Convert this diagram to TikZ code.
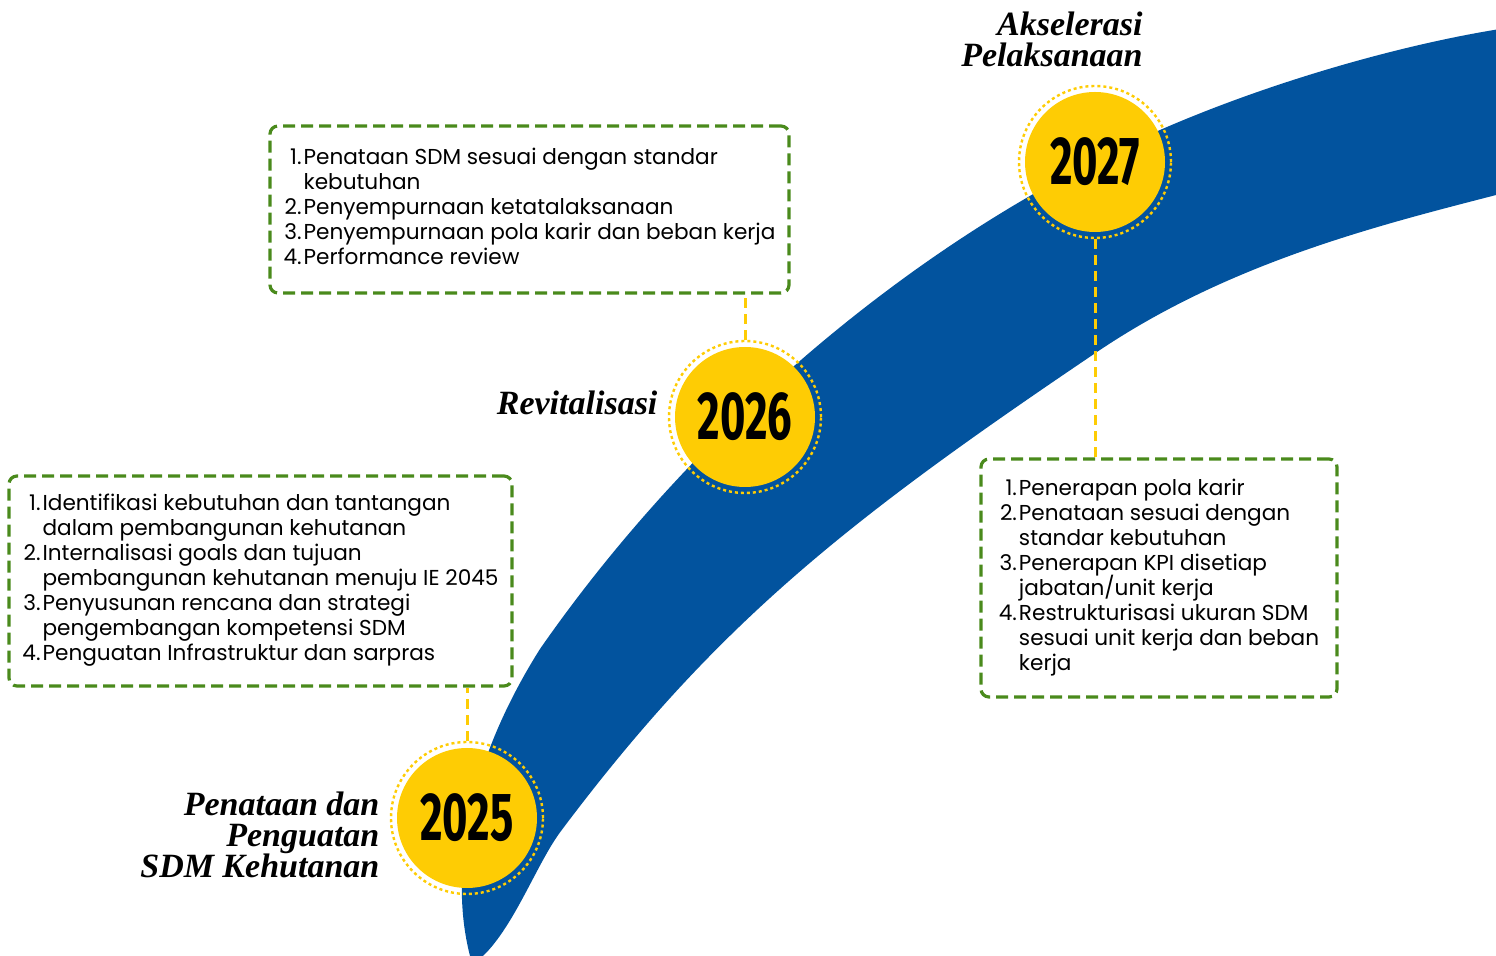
\documentclass[tikz,border=0pt]{standalone}
\usepackage{fontspec}
\setmainfont{Poppins}
\newfontfamily\yearfamily[FakeStretch=0.64]{Fira Sans}
\newfontfamily\titlefamily{Liberation Serif}
\usetikzlibrary{positioning}
\definecolor{bandblue}{RGB}{2,83,158}
\definecolor{sunyellow}{RGB}{254,204,4}
\definecolor{boxgreen}{RGB}{74,138,28}
\tikzstyle{Disc} = [circle, fill=sunyellow, minimum size=70pt, inner sep=0pt, font=\fontsize{34}{34}\selectfont\yearfamily\bfseries]
\tikzstyle{Ring} = [circle, draw=sunyellow, line width=1.2pt, dash pattern=on 1.5pt off 1.5pt, minimum size=76pt, inner sep=0pt]
\tikzstyle{List} = [draw=boxgreen, line width=1.6pt, dash pattern=on 6pt off 3pt, rounded corners=4pt, inner sep=0pt, font=\fontsize{10.8}{12.5}\selectfont]
\tikzstyle{Title} = [align=right, inner sep=0pt, font=\fontsize{17}{15.5}\selectfont\titlefamily\bfseries\itshape]
\tikzstyle{Link} = [draw=sunyellow, line width=1.5pt, dash pattern=on 5pt off 3pt]

\begin{document}
\begin{tikzpicture}[x=0.5pt, y=-0.5pt]
    \useasboundingbox (0,0) rectangle (1496,956);
    % band
    \fill[bandblue] (470,956) .. controls (448,870) and (470,760) .. (540,649)
        .. controls (688,436) and (912,238) .. (1160,130)
        .. controls (1270,82) and (1400,45) .. (1500,29)
        -- (1500,194) .. controls (1380,225) and (1230,262) .. (1097,352)
        .. controls (848,520) and (717,623) .. (561,831)
        .. controls (537,863) and (515,925) .. (483,956) -- cycle;

    \node[Ring] (ring25) at (467,818)  {};
    \node[Disc] (year25) at (ring25)   {2025};
    \node[Ring] (ring26) at (745,417)  {};
    \node[Disc] (year26) at (ring26)   {2026};
    \node[Ring] (ring27) at (1095,162) {};
    \node[Disc] (year27) at (ring27)   {2027};

    \node[Title, left=5pt of ring25, yshift=-8.5pt] (title25) {Penataan dan\\Penguatan\\SDM Kehutanan};
    \node[Title, left=5pt of ring26, yshift=7pt]    (title26) {Revitalisasi};
    \node[Title, anchor=south east] (title27) at (1143,67) {Akselerasi\\Pelaksanaan};

    \node[List, minimum width=251.5pt, minimum height=105pt] (list25) at (260.5,581) {%
        \begin{tabular}{@{}r@{\hspace{1pt}}l@{}}
        1. & Identifikasi kebutuhan dan tantangan\\
           & dalam pembangunan kehutanan\\
        2. & Internalisasi goals dan tujuan\\
           & pembangunan kehutanan menuju IE 2045\\
        3. & Penyusunan rencana dan strategi\\
           & pengembangan kompetensi SDM\\
        4. & Penguatan Infrastruktur dan sarpras
        \end{tabular}};
    \node[List, minimum width=259.5pt, minimum height=83.5pt] (list26) at (529.5,209.5) {%
        \begin{tabular}{@{}r@{\hspace{1pt}}l@{}}
        1. & Penataan SDM sesuai dengan standar\\
           & kebutuhan\\
        2. & Penyempurnaan ketatalaksanaan\\
        3. & Penyempurnaan pola karir dan beban kerja\\
        4. & Performance review
        \end{tabular}};
    \node[List, minimum width=178pt, minimum height=119pt] (list27) at (1159,578) {%
        \begin{tabular}{@{}r@{\hspace{1pt}}l@{}}
        1. & Penerapan pola karir\\
        2. & Penataan sesuai dengan\\
           & standar kebutuhan\\
        3. & Penerapan KPI disetiap\\
           & jabatan\smash{/}unit kerja\\
        4. & Restrukturisasi ukuran SDM\\
           & sesuai unit kerja dan beban\\
           & kerja
        \end{tabular}};

    \draw[Link] (ring25.north) -- (ring25.north |- list25.south);
    \draw[Link] (ring26.north) -- (ring26.north |- list26.south);
    \draw[Link] (ring27.south) -- (ring27.south |- list27.north);
\end{tikzpicture}
\end{document}
